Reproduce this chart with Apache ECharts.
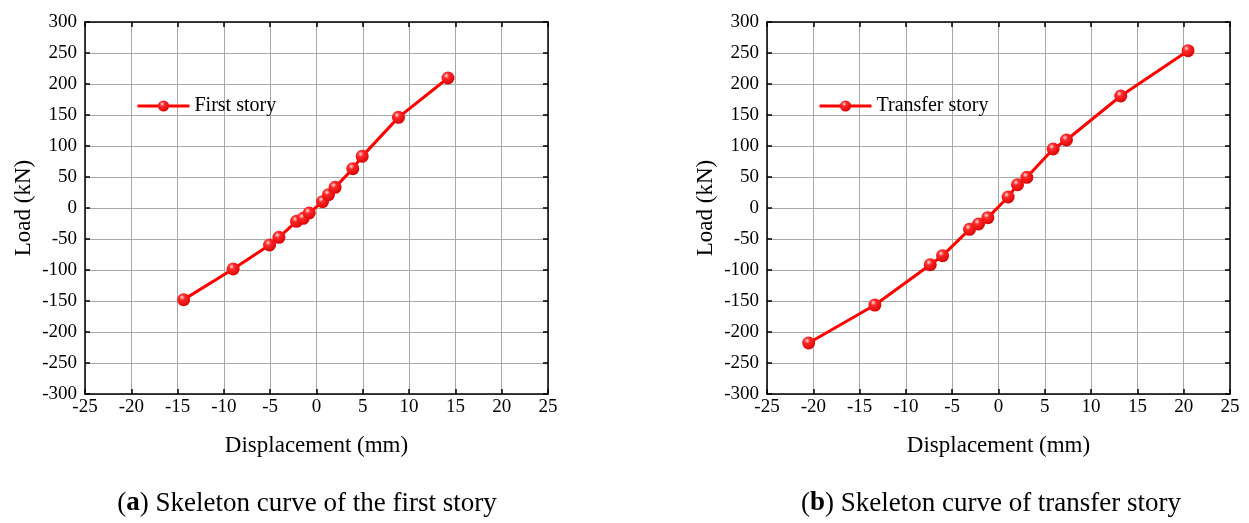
<!DOCTYPE html>
<html>
<head>
<meta charset="utf-8">
<style>
  html, body { margin: 0; padding: 0; background: #fff; }
  #chart { width: 1249px; height: 523px; }
</style>
<script src="https://cdn.jsdelivr.net/npm/echarts@6/dist/echarts.min.js"></script>
</head>
<body>
<div id="chart"></div>
<script>
// skeleton curve data
const firstDisp = [-14.35, -9.0, -5.07, -4.06, -2.16, -1.44, -0.79, 0.65, 1.29, 2.01, 3.92, 4.93, 8.85, 14.2]
const firstLoad = [-147.8, -98.4, -59.7, -47.3, -21.5, -16.7, -8.1, 10.2, 21.5, 33.3, 63.4, 83.3, 146.2, 209.7]
const transferDisp = [-20.5, -13.35, -7.37, -6.04, -3.13, -2.16, -1.15, 1.04, 2.05, 3.06, 5.9, 7.34, 13.2, 20.47]
const transferLoad = [-217.7, -156.5, -91.4, -76.9, -34.4, -25.8, -15.6, 17.7, 37.6, 49.5, 95.2, 109.7, 180.6, 253.8]
const seriesNames = ['First story', 'Transfer story']
const captionTags = ['a', 'b']
const captions = ['Skeleton curve of the first story', 'Skeleton curve of transfer story']

const FONT = '"Book Antiqua", "Palatino Linotype", Palatino, "Liberation Serif", serif'
const chart = echarts.init(document.getElementById('chart'))

const gridLine = { show: true, lineStyle: { color: '#a8a8a8', width: 1 } }
const frameLine = { show: true, onZero: false, lineStyle: { color: '#000', width: 1.5 } }
const tick = { show: true, inside: true, length: 5, lineStyle: { color: '#000', width: 1.5 } }

const xAxisFor = (gridIndex) => [
  {
    gridIndex, type: 'value', min: -25, max: 25, interval: 5,
    name: 'Displacement (mm)', nameLocation: 'middle', nameGap: 40,
    nameTextStyle: { fontFamily: FONT, fontSize: 23, color: '#000' },
    axisLine: frameLine, axisTick: tick, splitLine: gridLine,
    axisLabel: { margin: 4, fontFamily: FONT, fontSize: 19, color: '#000' },
  },
  {
    gridIndex, type: 'value', position: 'top', min: -25, max: 25, interval: 5,
    axisLine: frameLine, axisTick: tick, splitLine: { show: false }, axisLabel: { show: false },
  },
]

const yAxisFor = (gridIndex) => [
  {
    gridIndex, type: 'value', min: -300, max: 300, interval: 50,
    name: 'Load (kN)', nameLocation: 'middle', nameGap: 50,
    nameTextStyle: { fontFamily: FONT, fontSize: 23, color: '#000' },
    axisLine: frameLine, axisTick: tick, splitLine: gridLine,
    axisLabel: { margin: 8, fontFamily: FONT, fontSize: 19, color: '#000' },
  },
  {
    gridIndex, type: 'value', position: 'right', min: -300, max: 300, interval: 50,
    axisLine: frameLine, axisTick: tick, splitLine: { show: false }, axisLabel: { show: false },
  },
]

const ball = new echarts.graphic.RadialGradient(0.38, 0.32, 0.75, [
  { offset: 0, color: '#ffe4e4' },
  { offset: 0.28, color: '#ff2a2a' },
  { offset: 1, color: '#d80000' },
])

const makeSeries = (name, xs, ys, idx) => ({
  name,
  type: 'line',
  xAxisIndex: idx * 2,
  yAxisIndex: idx * 2,
  data: xs.map((x, i) => [x, ys[i]]),
  smooth: false,
  symbol: 'circle',
  symbolSize: 13,
  lineStyle: { color: '#ff0000', width: 3 },
  itemStyle: { color: ball, borderWidth: 0 },
})

const legendFor = (name, left) => ({
  data: [name], left, top: 96, padding: 0, itemWidth: 52, itemHeight: 14, itemGap: 5,
  lineStyle: { width: 3 },
  textStyle: { fontFamily: FONT, fontSize: 20, color: '#000' },
})

const captionCenters = [307, 991]

chart.setOption({
  animation: false,
  grid: [
    { left: 85, right: 701, top: 22, bottom: 129 },
    { left: 767, right: 19, top: 22, bottom: 129 },
  ],
  legend: [legendFor(seriesNames[0], 136), legendFor(seriesNames[1], 818)],
  title: captions.map((c, i) => ({
    text: '{n|(}{b|' + captionTags[i] + '}{n|) ' + c + '}',
    left: captionCenters[i],
    textAlign: 'center',
    top: 490,
    padding: 0,
    textStyle: {
      fontWeight: 'normal',
      rich: {
        n: { fontFamily: FONT, fontSize: 27, fontWeight: 'normal', color: '#000' },
        b: { fontFamily: FONT, fontSize: 27, fontWeight: 'bold', color: '#000' },
      },
    },
  })),
  xAxis: [...xAxisFor(0), ...xAxisFor(1)],
  yAxis: [...yAxisFor(0), ...yAxisFor(1)],
  series: [
    makeSeries(seriesNames[0], firstDisp, firstLoad, 0),
    makeSeries(seriesNames[1], transferDisp, transferLoad, 1),
  ],
})
</script>
</body>
</html>
